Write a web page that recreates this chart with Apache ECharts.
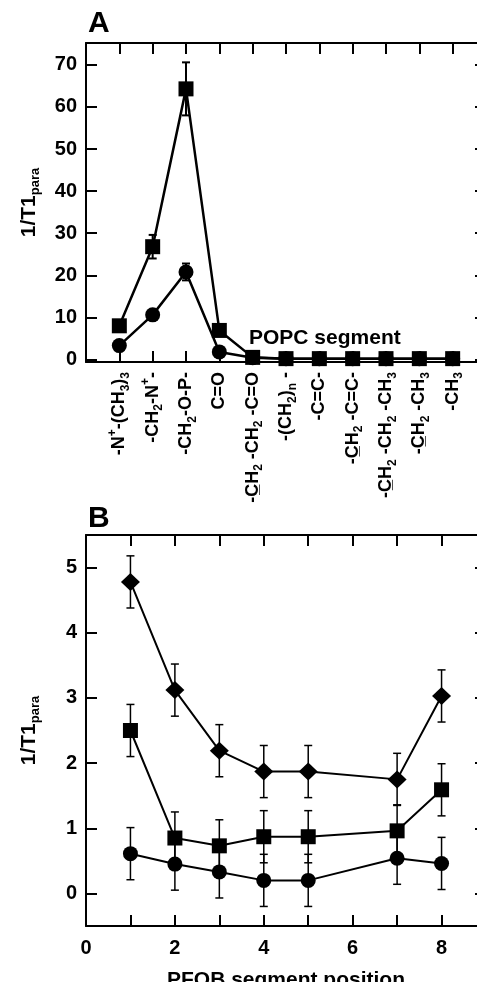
<!DOCTYPE html>
<html><head><meta charset="utf-8">
<script src="https://cdn.jsdelivr.net/npm/echarts@6/dist/echarts.min.js"></script>
<style>html,body{margin:0;padding:0;background:#fff}#c{width:477px;height:982px}</style>
</head><body><div id="c"></div>
<script>
// ---- Panel A data (POPC segments) ----
const segments = ['-N^+-(CH_3)_3', '-CH_2-N^+-', '-CH_2-O-P-', 'C=O', '-C\u0332H_2 -CH_2 -C=O', '-(CH_2)_n -', '-C=C-', '-C\u0332H_2 -C=C-', '-C\u0332H_2 -CH_2 -CH_3', '-C\u0332H_2 -CH_3', '-CH_3'];
const squaresA = [8, 26.8, 64.3, 6.9, 0.5, 0.2, 0.2, 0.2, 0.2, 0.2, 0.2];
const squaresAErr = [0.6, 2.8, 6.3, 0.6, 0, 0, 0, 0, 0, 0, 0];
const circlesA = [3.3, 10.6, 20.8, 1.8, 0.4, 0.2, 0.2, 0.2, 0.2, 0.2, 0.2];
const circlesAErr = [0.4, 0.6, 2.0, 0.3, 0, 0, 0, 0, 0, 0, 0];
const yTicksA = [0, 10, 20, 30, 40, 50, 60, 70];

// ---- Panel B data (PFOB segment position) ----
const positionsB = [1, 2, 3, 4, 5, 7, 8];
const diamondsB = [4.78, 3.12, 2.19, 1.87, 1.87, 1.75, 3.03];
const diamondsBErr = [0.4, 0.4, 0.4, 0.4, 0.4, 0.4, 0.4];
const squaresB = [2.5, 0.85, 0.73, 0.87, 0.87, 0.96, 1.59];
const squaresBErr = [0.4, 0.4, 0.4, 0.4, 0.4, 0.4, 0.4];
const circlesB = [0.61, 0.45, 0.33, 0.2, 0.2, 0.54, 0.46];
const circlesBErr = [0.4, 0.4, 0.4, 0.4, 0.4, 0.4, 0.4];
const yTicksB = [0, 1, 2, 3, 4, 5];
const xTicksB = [0, 2, 4, 6, 8];

const FONT = "'Liberation Sans', Arial, Helvetica, sans-serif";

function richify(s) {
  let out = '', buf = '';
  for (let i = 0; i < s.length; i++) {
    const ch = s[i];
    if ((ch === '_' || ch === '^') && i + 1 < s.length) {
      if (buf) { out += '{m|' + buf + '}'; buf = ''; }
      out += '{' + (ch === '_' ? 'b' : 'p') + '|' + s[i + 1] + '}';
      i++;
    } else buf += ch;
  }
  if (buf) out += '{m|' + buf + '}';
  return out;
}

function errData(xs, ys, es) {
  const d = [];
  for (let i = 0; i < xs.length; i++) if (es[i] > 0) d.push([xs[i], ys[i] - es[i], ys[i] + es[i]]);
  return d;
}
function errRender(capW, lw) {
  return function (params, api) {
    const x = api.value(0), lo = api.value(1), hi = api.value(2);
    const p1 = api.coord([x, hi]), p2 = api.coord([x, lo]);
    const style = { stroke: '#000', lineWidth: lw, fill: null };
    return { type: 'group', children: [
      { type: 'line', shape: { x1: p1[0], y1: p1[1], x2: p2[0], y2: p2[1] }, style: style },
      { type: 'line', shape: { x1: p1[0] - capW / 2, y1: p1[1], x2: p1[0] + capW / 2, y2: p1[1] }, style: style },
      { type: 'line', shape: { x1: p2[0] - capW / 2, y1: p2[1], x2: p2[0] + capW / 2, y2: p2[1] }, style: style }
    ]};
  };
}

const axLine = { show: true, onZero: false, lineStyle: { color: '#000', width: 2 } };
const axTick = { show: true, inside: true, length: 11, lineStyle: { color: '#000', width: 2 } };
const lblStyle = { color: '#000', fontFamily: FONT, fontWeight: 'bold', fontSize: 20 };

const catIdx = segments.map((_, i) => i + 1);
const yNameRich = {
  a: { fontFamily: FONT, fontWeight: 'bold', fontSize: 21, lineHeight: 26, color: '#000', verticalAlign: 'middle' },
  s: { fontFamily: FONT, fontWeight: 'bold', fontSize: 13, lineHeight: 13, color: '#000', verticalAlign: 'bottom' }
};

const option = {
  animation: false,
  backgroundColor: '#fff',
  grid: [
    { left: 86, top: 43, width: 400, height: 319, containLabel: false, outerBoundsMode: 'none' },
    { left: 86, top: 535, width: 400, height: 391, containLabel: false, outerBoundsMode: 'none' }
  ],
  xAxis: [
    { gridIndex: 0, type: 'value', min: 0, max: 12, interval: 1, position: 'bottom',
      axisLine: axLine, axisTick: axTick, splitLine: { show: false },
      axisLabel: { rotate: 90, margin: 10, showMinLabel: true, showMaxLabel: true,
        formatter: v => (v >= 1 && v <= segments.length) ? richify(segments[v - 1]) : '',
        rich: {
          m: { fontFamily: FONT, fontWeight: 'bold', fontSize: 18, lineHeight: 25, color: '#000', verticalAlign: 'middle' },
          b: { fontFamily: FONT, fontWeight: 'bold', fontSize: 12, lineHeight: 12, color: '#000', verticalAlign: 'bottom' },
          p: { fontFamily: FONT, fontWeight: 'bold', fontSize: 12, lineHeight: 12, color: '#000', verticalAlign: 'top' }
        } } },
    { gridIndex: 0, type: 'value', min: 0, max: 12, interval: 1, position: 'top',
      axisLine: axLine, axisTick: axTick, splitLine: { show: false }, axisLabel: { show: false } },
    { gridIndex: 1, type: 'value', min: 0, max: 9, interval: 1, position: 'bottom',
      axisLine: axLine, axisTick: axTick, splitLine: { show: false },
      axisLabel: Object.assign({ margin: 12, formatter: v => xTicksB.includes(v) ? String(v) : '' }, lblStyle),
      name: 'PFOB segment position', nameLocation: 'middle', nameGap: 44,
      nameTextStyle: { color: '#000', fontFamily: FONT, fontWeight: 'bold', fontSize: 21 } },
    { gridIndex: 1, type: 'value', min: 0, max: 9, interval: 1, position: 'top',
      axisLine: axLine, axisTick: axTick, splitLine: { show: false }, axisLabel: { show: false } }
  ],
  yAxis: [
    { gridIndex: 0, type: 'value', min: -0.6, max: 75.2, splitNumber: 8, position: 'left',
      axisLine: axLine, axisTick: axTick, splitLine: { show: false },
      axisLabel: Object.assign({ margin: 9, formatter: v => yTicksA.includes(v) ? String(v) : '' }, lblStyle),
      name: '{a|1/T1}{s|para}', nameLocation: 'middle', nameGap: 44, nameRotate: 90,
      nameTextStyle: { rich: yNameRich } },
    { gridIndex: 0, type: 'value', min: -0.6, max: 75.2, splitNumber: 8, position: 'right',
      axisLine: axLine, axisTick: axTick, splitLine: { show: false }, axisLabel: { show: false } },
    { gridIndex: 1, type: 'value', min: -0.5, max: 5.5, splitNumber: 6, position: 'left',
      axisLine: axLine, axisTick: axTick, splitLine: { show: false },
      axisLabel: Object.assign({ margin: 9, formatter: v => yTicksB.includes(v) ? String(v) : '' }, lblStyle),
      name: '{a|1/T1}{s|para}', nameLocation: 'middle', nameGap: 44, nameRotate: 90,
      nameTextStyle: { rich: yNameRich } },
    { gridIndex: 1, type: 'value', min: -0.5, max: 5.5, splitNumber: 6, position: 'right',
      axisLine: axLine, axisTick: axTick, splitLine: { show: false }, axisLabel: { show: false } }
  ],
  graphic: [
    { type: 'text', left: 88, top: 9, style: { text: 'A', fontFamily: FONT, fontWeight: 'bold', fontSize: 30, fill: '#000' } },
    { type: 'text', left: 88, top: 504, style: { text: 'B', fontFamily: FONT, fontWeight: 'bold', fontSize: 30, fill: '#000' } },
    { type: 'text', left: 249, top: 328, z: 10, style: { text: 'POPC segment', fontFamily: FONT, fontWeight: 'bold', fontSize: 21, fill: '#000' } }
  ],
  series: [
    { type: 'custom', xAxisIndex: 0, yAxisIndex: 0, renderItem: errRender(8, 2), data: errData(catIdx, squaresA, squaresAErr), z: 1 },
    { type: 'custom', xAxisIndex: 0, yAxisIndex: 0, renderItem: errRender(8, 2), data: errData(catIdx, circlesA, circlesAErr), z: 1 },
    { type: 'line', xAxisIndex: 0, yAxisIndex: 0, data: catIdx.map((x, i) => [x, circlesA[i]]),
      symbol: 'circle', symbolSize: 15, showAllSymbol: true, lineStyle: { color: '#000', width: 2.5 },
      itemStyle: { color: '#000', borderWidth: 0 }, z: 2 },
    { type: 'line', xAxisIndex: 0, yAxisIndex: 0, data: catIdx.map((x, i) => [x, squaresA[i]]),
      symbol: 'rect', symbolSize: 15, showAllSymbol: true, lineStyle: { color: '#000', width: 2.5 },
      itemStyle: { color: '#000', borderWidth: 0 }, z: 3 },

    { type: 'custom', xAxisIndex: 2, yAxisIndex: 2, renderItem: errRender(8, 1.5), data: errData(positionsB, diamondsB, diamondsBErr), z: 1 },
    { type: 'custom', xAxisIndex: 2, yAxisIndex: 2, renderItem: errRender(8, 1.5), data: errData(positionsB, squaresB, squaresBErr), z: 1 },
    { type: 'custom', xAxisIndex: 2, yAxisIndex: 2, renderItem: errRender(8, 1.5), data: errData(positionsB, circlesB, circlesBErr), z: 1 },
    { type: 'line', xAxisIndex: 2, yAxisIndex: 2, data: positionsB.map((x, i) => [x, diamondsB[i]]),
      symbol: 'diamond', symbolSize: [19, 18], showAllSymbol: true, lineStyle: { color: '#000', width: 2 },
      itemStyle: { color: '#000', borderWidth: 0 }, z: 2 },
    { type: 'line', xAxisIndex: 2, yAxisIndex: 2, data: positionsB.map((x, i) => [x, squaresB[i]]),
      symbol: 'rect', symbolSize: 15, showAllSymbol: true, lineStyle: { color: '#000', width: 2 },
      itemStyle: { color: '#000', borderWidth: 0 }, z: 2 },
    { type: 'line', xAxisIndex: 2, yAxisIndex: 2, data: positionsB.map((x, i) => [x, circlesB[i]]),
      symbol: 'circle', symbolSize: 15, showAllSymbol: true, lineStyle: { color: '#000', width: 2 },
      itemStyle: { color: '#000', borderWidth: 0 }, z: 2 }
  ]
};
const chart = echarts.init(document.getElementById('c'), null, { renderer: 'canvas' });
chart.setOption(option);
</script>
</body></html>
